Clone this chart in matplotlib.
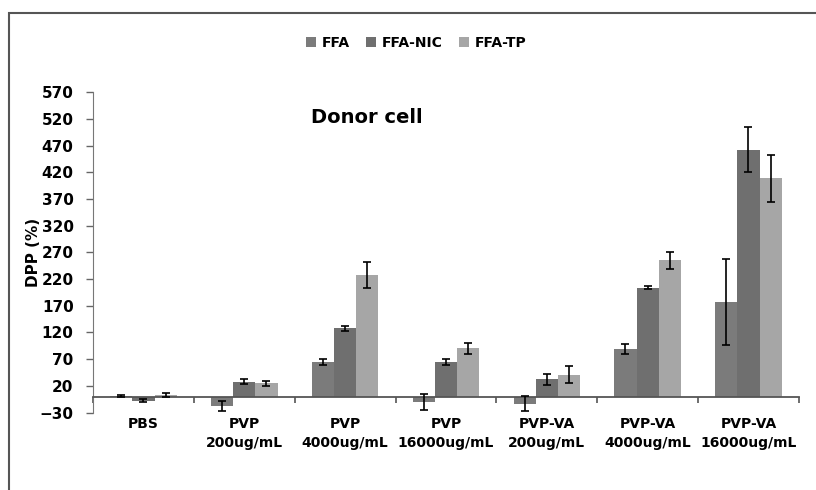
import matplotlib
matplotlib.use("Agg")
import matplotlib.pyplot as plt
from matplotlib.patches import Rectangle
import numpy as np

plt.rcParams['font.family'] = ['DejaVu Sans']
plt.rcParams['font.weight'] = 'bold'

categories = ["PBS", "PVP\n200ug/mL", "PVP\n4000ug/mL", "PVP\n16000ug/mL",
              "PVP-VA\n200ug/mL", "PVP-VA\n4000ug/mL", "PVP-VA\n16000ug/mL"]
series = ["FFA", "FFA-NIC", "FFA-TP"]

ffa = [1, -18, 65, -10, -13, 89, 177]
ffa_err = [1, 9, 6, 15, 14, 9, 80]
ffa_nic = [-8, 28, 128, 65, 32, 204, 462]
ffa_nic_err = [3, 4, 5, 5, 11, 3, 42]
ffa_tp = [3, 25, 227, 90, 41, 255, 409]
ffa_tp_err = [4, 5, 24, 11, 16, 16, 44]

yticks = list(range(-30, 571, 50))
colors = ["#7b7b7b", "#6f6f6f", "#a6a6a6"]

fig = plt.figure(figsize=(8.16, 4.9), dpi=100)
ax = fig.add_axes([0.114, 0.158, 0.865, 0.654])

# outer chart frame (top and left edges visible)
fig.patches.append(Rectangle((9 / 816, -0.1), 1.2, 1 - 13 / 490 + 0.1,
                             transform=fig.transFigure, fill=False,
                             edgecolor="#555555", linewidth=1.5))

x = np.arange(len(categories))
w = 0.22
vals = [ffa, ffa_nic, ffa_tp]
errs = [ffa_err, ffa_nic_err, ffa_tp_err]
for i, (v, e, c, name) in enumerate(zip(vals, errs, colors, series)):
    ax.bar(x + (i - 1) * w, v, width=w, color=c, label=name, zorder=2)
    ax.errorbar(x + (i - 1) * w, v, yerr=e, fmt="none", ecolor="black",
                elinewidth=1.2, capsize=3, capthick=1.2, zorder=3)

ax.set_xlim(-0.5, len(categories) - 0.5)
ax.set_ylim(-30, 570)
ax.set_yticks(yticks)
ax.tick_params(axis="y", direction="out", length=5, width=1, color="#666666",
               pad=9, labelsize=11)
for lbl in ax.get_yticklabels():
    lbl.set_fontweight("bold")

ax.spines["top"].set_visible(False)
ax.spines["right"].set_visible(False)
ax.spines["left"].set_color("#777777")
ax.spines["bottom"].set_position(("data", 0))
ax.spines["bottom"].set_color("#555555")
ax.spines["bottom"].set_linewidth(1.3)

ax.set_xticks(x)
ax.set_xticklabels(categories, fontsize=10, fontweight="bold", linespacing=1.45)
ax.set_xticks(np.arange(len(categories) + 1) - 0.5, minor=True)
ax.tick_params(axis="x", which="major", length=0, pad=15)
ax.tick_params(axis="x", which="minor", direction="out", length=4, width=1.2,
               color="#555555")

ax.set_ylabel("DPP (%)", fontsize=11, fontweight="bold")
ax.yaxis.set_label_coords(-0.074, 0.5)

ax.text(0.388, 0.92, "Donor cell", transform=ax.transAxes, ha="center",
        va="center", fontsize=14, fontweight="bold")

ax.legend(loc="center", bbox_to_anchor=(0.51, 0.912), bbox_transform=fig.transFigure,
          ncol=3, frameon=False, handlelength=0.75, handleheight=0.75,
          handletextpad=0.4, columnspacing=1.15, prop={"weight": "bold", "size": 10})

fig.savefig("out.png", dpi=100)
